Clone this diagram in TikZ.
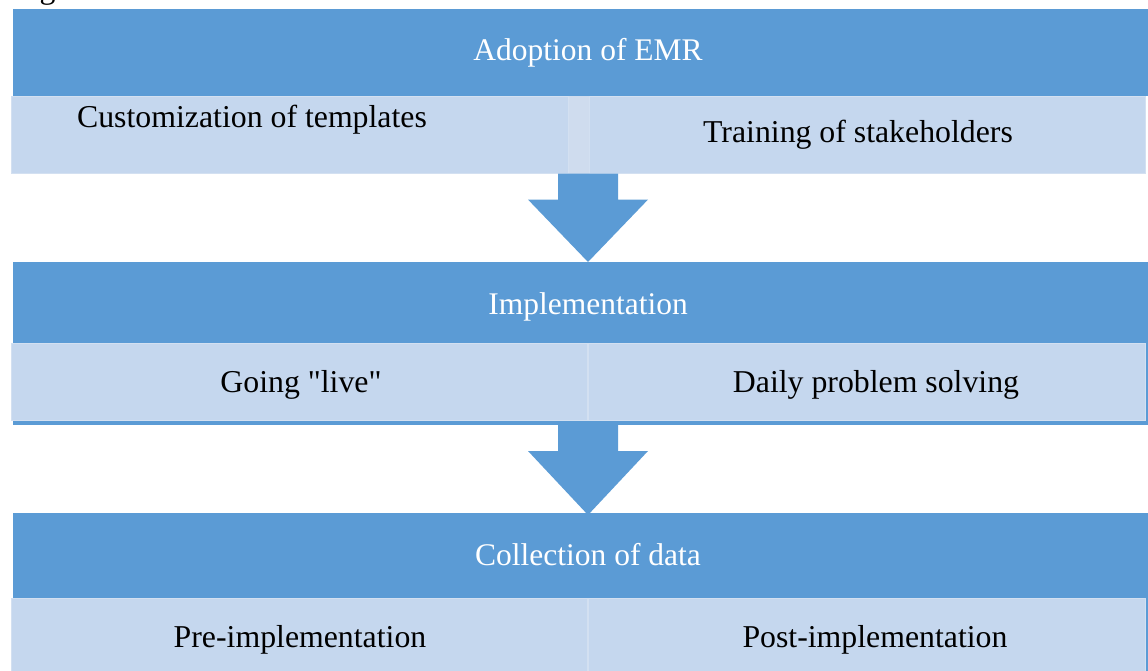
\documentclass[tikz,border=0pt]{standalone}
\usepackage{fontspec}
\setmainfont{Liberation Serif}
\usetikzlibrary{calc}
\definecolor{bandblue}{HTML}{5B9BD5}
\definecolor{celltint}{HTML}{C5D7EE}
\definecolor{celledge}{HTML}{D3E0F1}
\definecolor{celldivide}{HTML}{CFDCEE}
\tikzset{
  band/.style={rectangle, fill=bandblue, draw=none, inner sep=0pt, outer sep=0pt, anchor=north west},
  cell/.style={rectangle, fill=celltint, draw=celledge, line width=1.2pt, inner sep=0pt, outer sep=0pt, anchor=north west},
  divider/.style={rectangle, fill=celldivide, draw=none, inner sep=0pt, outer sep=0pt, anchor=north west},
  headtext/.style={text=white, font=\fontsize{31.5}{36}\selectfont, anchor=base, inner sep=0pt},
  itemtext/.style={text=black, font=\fontsize{31.8}{36}\selectfont, anchor=base, inner sep=0pt},
  blockarrow/.style={fill=bandblue, draw=none}
}
% a downward block arrow from the shaft top (#1) to the tip (#2)
\newcommand\flowarrow[2]{%
  \fill[blockarrow] ($(#1)+(-30,0)$) -- ($(#1)+(30,0)$) -- ($(#1)+(30,26)$)
    -- ($(#1)+(60,26)$) -- (#2) -- ($(#1)+(-60,26)$) -- ($(#1)+(-30,26)$) -- cycle;}
\begin{document}
\begin{tikzpicture}[x=1pt, y=-1pt]
  \useasboundingbox (0,0) rectangle (1148,671);
  \clip (0,0) rectangle (1148,671);

  % caption line above the chart
  \node[itemtext, anchor=base west] (caption) at (13,-1) {Figure 3:};

  % stage 1: adoption
  \node[band, minimum width=1135pt, minimum height=87pt] (adopt) at (13,9) {};
  \node[cell, minimum width=557pt, minimum height=77pt] (adoptL) at (11.6,96.6) {};
  \node[cell, minimum width=556pt, minimum height=77pt] (adoptR) at (589.6,96.6) {};
  \node[divider, minimum width=20pt, minimum height=78pt] (adoptGap) at (569,96) {};
  \node[headtext] (adoptT) at (588,61) {Adoption of EMR};
  \node[itemtext] (adoptLT) at (252,128) {Customization of templates};
  \node[itemtext] (adoptRT) at (858,143) {Training of stakeholders};

  % stage 2: implementation
  \node[band, minimum width=1135pt, minimum height=163pt] (impl) at (13,262) {};
  \node[cell, minimum width=576pt, minimum height=77pt] (implL) at (11.6,343.6) {};
  \node[cell, minimum width=557pt, minimum height=77pt] (implR) at (588.4,343.6) {};
  \node[headtext] (implT) at (588,314) {Implementation};
  \node[itemtext] (implLT) at (301,392) {Going \textquotedbl live\textquotedbl};
  \node[itemtext] (implRT) at (876,392) {Daily problem solving};

  % stage 3: data collection
  \node[band, minimum width=1135pt, minimum height=160pt] (coll) at (13,513) {};
  \node[cell, minimum width=576pt, minimum height=80pt] (collL) at (11.6,598.6) {};
  \node[cell, minimum width=557pt, minimum height=80pt] (collR) at (588.4,598.6) {};
  \node[headtext] (collT) at (588,565) {Collection of data};
  \node[itemtext] (collLT) at (300,647) {Pre-implementation};
  \node[itemtext] (collRT) at (875,647) {Post-implementation};

  % arrows between the stages
  \coordinate (arrowA) at (adoptL.south -| 588,0);
  \coordinate (tipA) at (impl.north -| 588,0);
  \coordinate (arrowB) at (impl.south -| 588,0);
  \coordinate (tipB) at ($(coll.north -| 588,0)+(0,2)$);
  \flowarrow{arrowA}{tipA}
  \flowarrow{arrowB}{tipB}
\end{tikzpicture}
\end{document}
